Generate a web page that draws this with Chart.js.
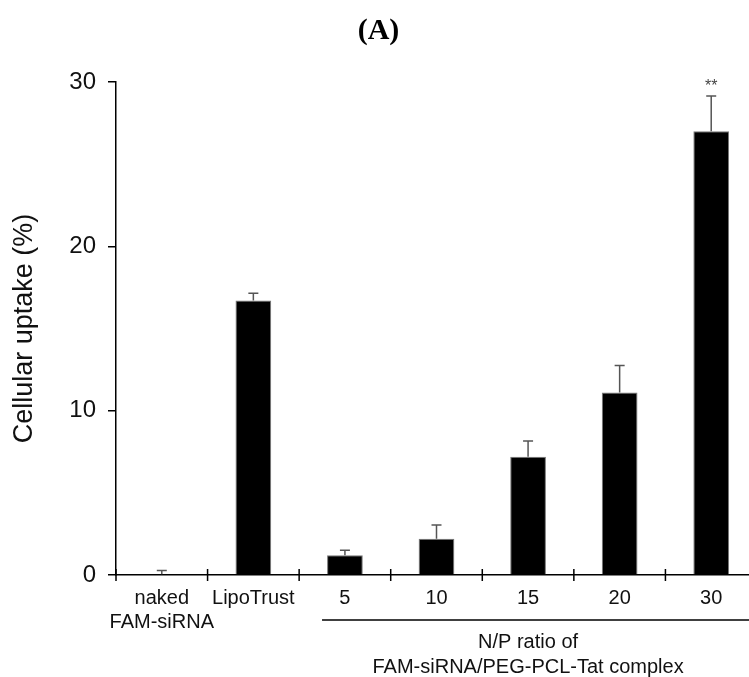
<!DOCTYPE html>
<html>
<head>
<meta charset="utf-8">
<script src="https://cdn.jsdelivr.net/npm/chart.js@4/dist/chart.umd.min.js"></script>
<style>
  html, body { margin: 0; padding: 0; background: #fff; overflow: hidden; }
  #wrap { width: 757px; height: 677px; }
</style>
</head>
<body>
<div id="wrap"><canvas id="chart" width="757" height="677"></canvas></div>
<script>
const categories = [['naked', 'FAM-siRNA'], 'LipoTrust', '5', '10', '15', '20', '30'];
const uptake = [0.05, 16.7, 1.2, 2.2, 7.2, 11.1, 27.0];
const uptakeErr = [0.22, 0.45, 0.3, 0.85, 0.95, 1.65, 2.15];
const significance = ['', '', '', '', '', '', '**'];
const yTicks = [0, 10, 20, 30];
const groupLabel = ['N/P ratio of', 'FAM-siRNA/PEG-PCL-Tat complex'];
const groupFrom = 2; // first category under the bracket

const FONT = "'Liberation Sans', Arial, sans-serif";

// error bars + significance marks
const errorBars = {
  id: 'errorBars',
  afterDatasetsDraw(chart) {
    const ctx = chart.ctx;
    const meta = chart.getDatasetMeta(0);
    const y = chart.scales.y;
    ctx.save();
    ctx.strokeStyle = '#555';
    ctx.lineWidth = 1.5;
    meta.data.forEach((bar, i) => {
      const top = y.getPixelForValue(uptake[i] + uptakeErr[i]);
      const base = y.getPixelForValue(uptake[i]);
      ctx.beginPath();
      ctx.moveTo(bar.x, base);
      ctx.lineTo(bar.x, top);
      ctx.moveTo(bar.x - 5, top);
      ctx.lineTo(bar.x + 5, top);
      ctx.stroke();
      if (significance[i]) {
        ctx.fillStyle = '#444';
        ctx.font = '16px ' + FONT;
        ctx.textAlign = 'center';
        ctx.textBaseline = 'middle';
        ctx.fillText(significance[i], bar.x, top - 9);
      }
    });
    ctx.restore();
  }
};

// cross ticks between categories, group bracket and its label
const axisDecor = {
  id: 'axisDecor',
  afterDraw(chart) {
    const ctx = chart.ctx;
    const x = chart.scales.x;
    const axisY = chart.chartArea.bottom;
    const step = x.getPixelForValue(1) - x.getPixelForValue(0);
    ctx.save();
    ctx.strokeStyle = '#000';
    ctx.lineWidth = 1.5;
    ctx.beginPath();
    for (let i = 0; i <= categories.length; i++) {
      const px = x.getPixelForValue(i) - step / 2;
      ctx.moveTo(px, axisY - 6);
      ctx.lineTo(px, axisY + 6);
    }
    ctx.stroke();

    const x0 = x.getPixelForValue(groupFrom) - step * 0.25;
    ctx.beginPath();
    ctx.moveTo(x0, axisY + 45);
    ctx.lineTo(chart.width, axisY + 45);
    ctx.stroke();

    const cx = (x.getPixelForValue(groupFrom) + x.getPixelForValue(categories.length - 1)) / 2;
    ctx.fillStyle = '#111';
    ctx.font = '20px ' + FONT;
    ctx.textAlign = 'center';
    ctx.textBaseline = 'middle';
    ctx.fillText(groupLabel[0], cx, axisY + 67);
    ctx.fillText(groupLabel[1], cx, axisY + 92);
    ctx.restore();
  }
};

new Chart(document.getElementById('chart'), {
  type: 'bar',
  data: {
    labels: categories,
    datasets: [{
      data: uptake,
      backgroundColor: '#000',
      borderColor: '#777',
      borderWidth: 1,
      barPercentage: 0.39,
      categoryPercentage: 1
    }]
  },
  options: {
    responsive: false,
    animation: false,
    layout: { padding: 0 },
    plugins: {
      legend: { display: false },
      tooltip: { enabled: false },
      title: {
        display: true,
        text: '(A)',
        color: '#000',
        font: { family: "'Liberation Serif', 'DejaVu Serif', serif", size: 30, weight: 'bold', lineHeight: 1.2 },
        padding: { top: 13, bottom: 33 }
      }
    },
    scales: {
      x: {
        offset: true,
        grid: { display: false, drawTicks: false },
        border: { display: true, color: '#000', width: 1.5 },
        ticks: {
          color: '#111',
          font: { family: FONT, size: 20, lineHeight: 1.2 },
          padding: 11,
          maxRotation: 0,
          autoSkip: false
        },
        afterFit(scale) { scale.height = 102; }
      },
      y: {
        min: 0,
        max: 30,
        afterBuildTicks(scale) { scale.ticks = yTicks.map(v => ({ value: v })); },
        grid: { drawOnChartArea: false, drawTicks: true, tickLength: 8, color: '#000', lineWidth: 1.5 },
        border: { display: true, color: '#000', width: 1.5 },
        ticks: {
          color: '#111',
          font: { family: FONT, size: 24 },
          padding: 12
        },
        title: {
          display: true,
          text: 'Cellular uptake (%)',
          color: '#111',
          font: { family: FONT, size: 27, lineHeight: 1.2 },
          padding: { top: 8, bottom: 0 }
        },
        afterFit(scale) { scale.width = 116; }
      }
    }
  },
  plugins: [errorBars, axisDecor]
});
</script>
</body>
</html>
